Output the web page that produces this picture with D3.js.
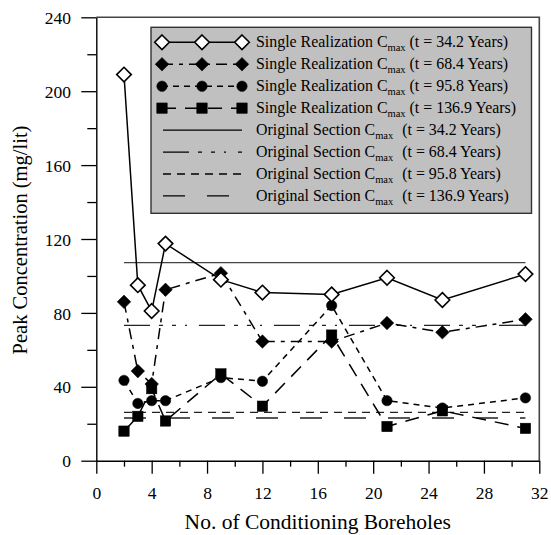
<!DOCTYPE html>
<html>
<head>
<meta charset="utf-8">
<script src="https://cdn.jsdelivr.net/npm/d3@7"></script>
<style>
  body { margin: 0; background: #fff; }
  svg text { font-family: "Liberation Serif", "Times New Roman", Tinos, "DejaVu Serif", serif; }
</style>
</head>
<body>
<div id="chart"></div>
<script>
// values
const boreholes = [2, 3, 4, 5, 9, 12, 17, 21, 25, 31];
const cmax342 = [209, 95, 81, 117.5, 98, 91, 90, 99, 87, 101];
const cmax684 = [86, 48.5, 41.5, 92.5, 101.5, 64.5, 64.5, 74.5, 69.5, 76.5];
const cmax958 = [43.5, 31, 32.5, 32.5, 45, 43, 84, 32.5, 28.5, 34];
const cmax1369 = [16, 24, 39, 21.5, 47, 29.5, 68, 18.5, 27, 17.5];
const originalCmax = [107.2, 73.3, 26.2, 23.1];
const times = ["34.2", "68.4", "95.8", "136.9"];
const xTicks = [0, 4, 8, 12, 16, 20, 24, 28, 32];
const yTicks = [0, 40, 80, 120, 160, 200, 240];

const width = 551, height = 535;
const margin = {top: 17.3, right: 11.7, bottom: 74.3, left: 96.3};

const svg = d3.select("#chart").append("svg")
    .attr("width", width)
    .attr("height", height);

const x = d3.scaleLinear().domain([0, 32]).range([margin.left, width - margin.right]);
const y = d3.scaleLinear().domain([0, 240]).range([height - margin.bottom, margin.top]);

// frame (top + right)
svg.append("path")
    .attr("d", `M${x(0)},${y(240)}H${x(32)}V${y(0)}`)
    .attr("fill", "none")
    .attr("stroke", "#444")
    .attr("stroke-width", 1.6);

// axes
const xAxis = svg.append("g")
    .attr("transform", `translate(0,${y(0)})`)
    .call(d3.axisBottom(x).tickValues(xTicks).tickSize(13).tickSizeOuter(0));
svg.append("g")
    .attr("transform", `translate(0,${y(0)})`)
    .call(d3.axisBottom(x).tickValues(d3.range(2, 32, 4)).tickSize(6).tickFormat("").tickSizeOuter(0))
    .call(g => g.select(".domain").remove());

const yAxis = svg.append("g")
    .attr("transform", `translate(${x(0)},0)`)
    .call(d3.axisLeft(y).tickValues(yTicks).tickSize(15).tickSizeOuter(0));
svg.append("g")
    .attr("transform", `translate(${x(0)},0)`)
    .call(d3.axisLeft(y).tickValues(d3.range(20, 240, 40)).tickSize(9).tickFormat("").tickSizeOuter(0))
    .call(g => g.select(".domain").remove());

svg.selectAll("g").attr("font-family", null);
svg.selectAll(".domain").attr("stroke", "#000").attr("stroke-width", 1.4);
svg.selectAll(".tick line").attr("stroke", "#000").attr("stroke-width", 1.3);
svg.selectAll(".tick text")
    .attr("font-size", 17.5)
    .attr("fill", "#000");
xAxis.selectAll(".tick text").attr("y", 38.8).attr("dy", 0);
yAxis.selectAll(".tick text").attr("x", -25.3).attr("dy", "0.35em");

// axis titles
svg.append("text")
    .attr("x", (x(0) + x(32)) / 2)
    .attr("y", 529)
    .attr("text-anchor", "middle")
    .attr("font-size", 21.5)
    .text("No. of Conditioning Boreholes");

svg.append("text")
    .attr("transform", `translate(26.5,${(y(0) + y(240)) / 2 + 1}) rotate(-90)`)
    .attr("text-anchor", "middle")
    .attr("font-size", 20.5)
    .text("Peak Concentration (mg/lit)");

// original section reference lines
const refDash = [null, "26,9,4,9,4,9,2,12", "8,6", "22,22"];
const refW = [1.2, 1.3, 1.3, 1.3];

svg.append("g").selectAll("line")
    .data(originalCmax)
    .join("line")
    .attr("x1", x(2))
    .attr("x2", x(31))
    .attr("y1", d => y(d))
    .attr("y2", d => y(d))
    .attr("stroke", (d, i) => i == 0 ? "#444" : "#222")
    .attr("stroke-width", (d, i) => refW[i])
    .attr("stroke-dasharray", (d, i) => refDash[i]);

// single realization series
const symbols = {
  diamond: (g, s) => g.append("path").attr("d", `M0,${-s}L${s},0L0,${s}L${-s},0Z`),
  circle: (g, s) => g.append("circle").attr("r", s),
  square: (g, s) => g.append("rect").attr("x", -s).attr("y", -s).attr("width", 2 * s).attr("height", 2 * s)
};

const series = [
  {vals: cmax1369, sym: "square", size: 5.2, open: false, dash: "14,9"},
  {vals: cmax958, sym: "circle", size: 5.2, open: false, dash: "6,5"},
  {vals: cmax684, sym: "diamond", size: 6.8, open: false, dash: "11,6,4,6"},
  {vals: cmax342, sym: "diamond", size: 7.3, open: true, dash: null}
];

const line = d3.line().x(d => x(d[0])).y(d => y(d[1]));

series.forEach(s => {
  const pts = boreholes.map((b, i) => [b, s.vals[i]]);
  svg.append("path")
      .datum(pts)
      .attr("d", line)
      .attr("fill", "none")
      .attr("stroke", "#000")
      .attr("stroke-width", 1.5)
      .attr("stroke-dasharray", s.dash);
  svg.append("g").selectAll("g")
      .data(pts)
      .join("g")
      .attr("transform", d => `translate(${x(d[0])},${y(d[1])})`)
      .each(function() {
        symbols[s.sym](d3.select(this), s.size)
            .attr("fill", s.open ? "#fff" : "#000")
            .attr("stroke", "#000")
            .attr("stroke-width", s.open ? 1.6 : 0.5);
      });
});

// legend
const leg = svg.append("g");
leg.append("rect")
    .attr("x", 151)
    .attr("y", 27.3)
    .attr("width", 380.5)
    .attr("height", 186)
    .attr("fill", "#c0c0c0")
    .attr("stroke", "#333")
    .attr("stroke-width", 1.4);

const rowY = i => 42.3 + i * 21.95;
const legOrder = [3, 2, 1, 0];

legOrder.forEach((si, i) => {
  const s = series[si];
  const yy = rowY(i);
  leg.append("line")
      .attr("x1", 162).attr("x2", 242)
      .attr("y1", yy).attr("y2", yy)
      .attr("stroke", "#000")
      .attr("stroke-width", 1.5)
      .attr("stroke-dasharray", s.dash);
  [162, 202, 242].forEach(px => {
    const g = leg.append("g").attr("transform", `translate(${px},${yy})`);
    symbols[s.sym](g, s.size)
        .attr("fill", s.open ? "#fff" : "#000")
        .attr("stroke", "#000")
        .attr("stroke-width", s.open ? 1.6 : 0.5);
  });
});

originalCmax.forEach((d, i) => {
  const yy = rowY(i + 4);
  leg.append("line")
      .attr("x1", 163).attr("x2", 242)
      .attr("y1", yy).attr("y2", yy)
      .attr("stroke", "#000")
      .attr("stroke-width", 1.3)
      .attr("stroke-dasharray", refDash[i]);
});

const legLabels = times.map(t => ["Single Realization C", t])
    .concat(times.map(t => ["Original Section C", t]));

legLabels.forEach((d, i) => {
  const t = leg.append("text")
      .attr("x", 256)
      .attr("y", rowY(i) + 5)
      .attr("font-size", 15.9)
      .attr("fill", "#000");
  t.append("tspan").text(d[0]);
  t.append("tspan").attr("dy", 4).attr("font-size", 10.5).text("max");
  t.append("tspan").attr("dy", -4)
      .attr("dx", i < 4 ? 0 : 5)
      .text(` (t = ${d[1]} Years)`);
});
</script>
</body>
</html>
